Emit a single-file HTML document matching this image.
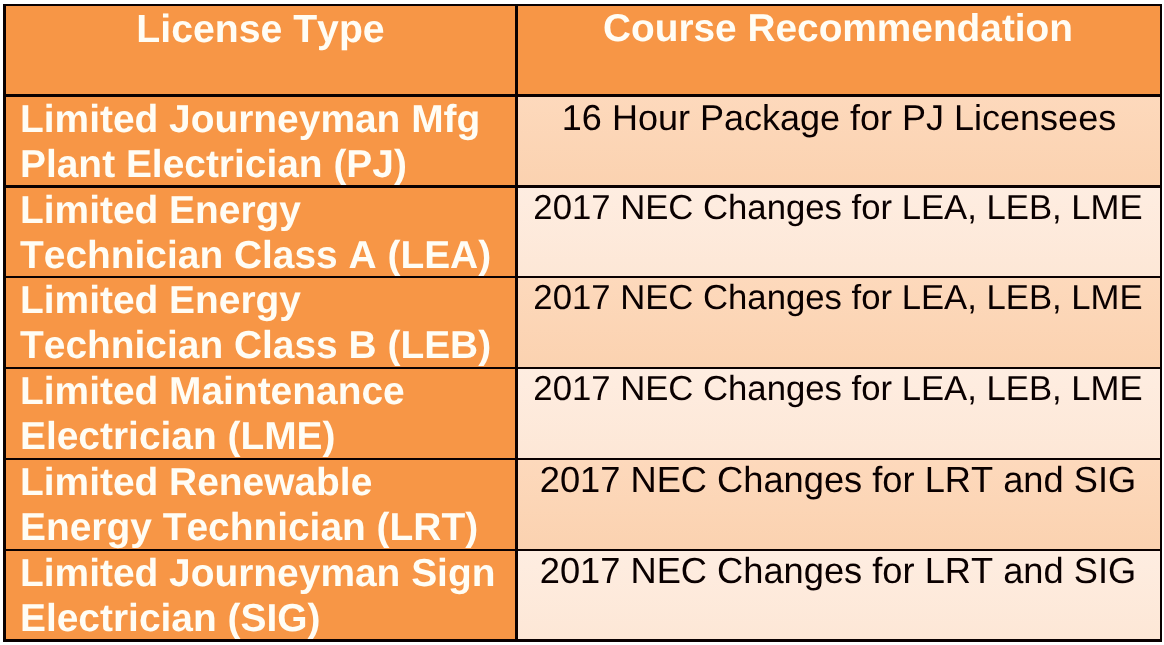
<!DOCTYPE html>
<html><head><meta charset="utf-8">
<style>
html,body{margin:0;padding:0;background:#fff;}
body{font-kerning:none;font-variant-ligatures:none;text-rendering:geometricPrecision;width:1164px;height:645px;position:relative;overflow:hidden;font-family:"Liberation Sans",Arial,sans-serif;}
#frame{position:absolute;left:3px;top:4px;width:1159px;height:638px;background:#0a0000;}
.c{position:absolute;overflow:hidden;}
.l{left:3px;width:509px;background:#f79646;color:#fffdf5;font-weight:bold;font-size:38.9px;line-height:45px;white-space:nowrap;}
.r{left:515px;width:642px;color:#0a0000;font-size:36px;line-height:42px;text-align:center;white-space:nowrap;}
.l span{position:absolute;left:14px;}
.r span{position:absolute;left:0;right:0;top:-1px;}
.s span{font-size:34.7px;left:-2px;}
.u span{font-size:36.25px;left:-2px;}
.v span{top:0px;}
.d{background:linear-gradient(#fdd9bc,#fbd2b0);}
.t{background:linear-gradient(#feede1,#fde7d6);}
.h{text-align:center;}
</style></head><body>
<div id="frame">
<div class="c l h" style="top:2px;height:88px;"><span style="left:0;right:0;top:1px;font-size:39.2px;">License Type</span></div>
<div class="c r" style="top:2px;height:88px;background:#f79646;color:#fffdf5;font-weight:bold;font-size:39px;line-height:45px;"><span style="top:0px;left:-2px;font-size:38.8px;">Course Recommendation</span></div>

<div class="c l" style="top:93px;height:88px;"><span style="top:0px;">Limited Journeyman Mfg<br>Plant Electrician (PJ)</span></div>
<div class="c r d v" style="top:93px;height:88px;"><span>16 Hour Package for PJ Licensees</span></div>

<div class="c l" style="top:184px;height:88px;"><span style="top:0px;">Limited Energy<br>Technician Class A (LEA)</span></div>
<div class="c r t s" style="top:184px;height:88px;"><span>2017 NEC Changes for LEA, LEB, LME</span></div>

<div class="c l" style="top:274px;height:89px;"><span style="top:0px;">Limited Energy<br>Technician Class B (LEB)</span></div>
<div class="c r d s" style="top:274px;height:89px;"><span>2017 NEC Changes for LEA, LEB, LME</span></div>

<div class="c l" style="top:365px;height:89px;"><span style="top:0px;">Limited Maintenance<br>Electrician (LME)</span></div>
<div class="c r t s" style="top:365px;height:89px;"><span>2017 NEC Changes for LEA, LEB, LME</span></div>

<div class="c l" style="top:456px;height:89px;"><span style="top:0px;">Limited Renewable<br>Energy Technician (LRT)</span></div>
<div class="c r d u" style="top:456px;height:89px;"><span>2017 NEC Changes for LRT and SIG</span></div>

<div class="c l" style="top:547px;height:88px;"><span style="top:0px;">Limited Journeyman Sign<br>Electrician (SIG)</span></div>
<div class="c r t u" style="top:547px;height:88px;"><span>2017 NEC Changes for LRT and SIG</span></div>
</div>
</body></html>
